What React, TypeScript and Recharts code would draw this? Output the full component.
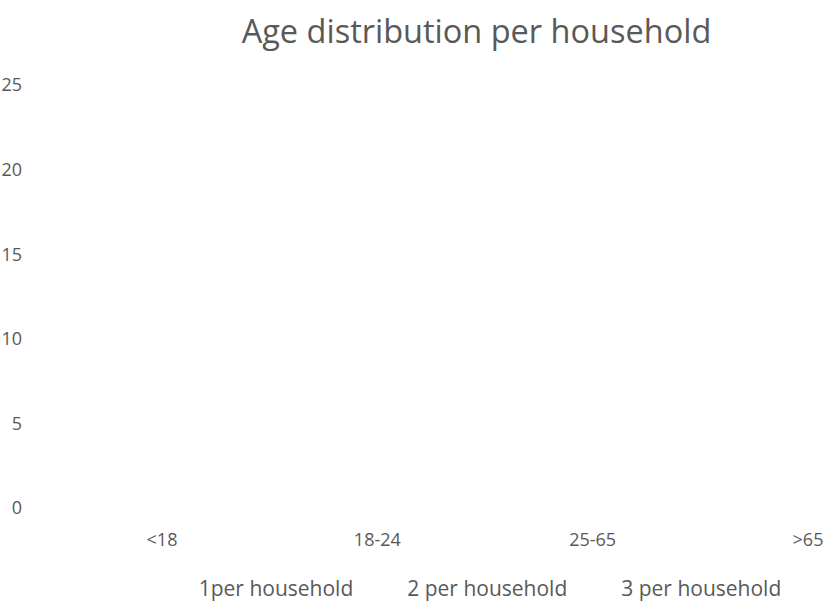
import { LineChart, Line, XAxis, YAxis, Legend } from "recharts";

const ageGroups = ["<18", "18-24", "25-65", ">65"];
const seriesNames = ["1per household", "2 per household", "3 per household"];
// the reference chart has no values plotted at all
const onePerHousehold: (number | null)[] = [null, null, null, null];
const twoPerHousehold: (number | null)[] = [null, null, null, null];
const threePerHousehold: (number | null)[] = [null, null, null, null];
const yTicks = [0, 5, 10, 15, 20, 25];

const dados = ageGroups.map((g, i) => ({
  grupo: g,
  s1: onePerHousehold[i],
  s2: twoPerHousehold[i],
  s3: threePerHousehold[i],
}));

const cinza = "#595959";
const fonte = "'Open Sans', sans-serif";

function LegendaTexto() {
  return (
    <div style={{ display: "flex", justifyContent: "center", gap: 54, fontFamily: fonte, fontSize: 21, color: cinza, paddingLeft: 143, lineHeight: "30px" }}>
      {seriesNames.map((n) => (
        <span key={n}>{n}</span>
      ))}
    </div>
  );
}

export default function App() {
  return (
    <div style={{ position: "absolute", left: 0, top: 0, width: 837, height: 601, background: "#fff" }}>
      <div style={{ position: "absolute", top: 8, width: 837, textAlign: "center", paddingLeft: 116, boxSizing: "border-box", fontFamily: fonte, fontSize: 32.5, color: cinza }}>
        Age distribution per household
      </div>
      <LineChart width={837} height={601} data={dados} margin={{ top: 85, right: 0, left: 0, bottom: 23 }}>
        <XAxis
          dataKey="grupo"
          scale="point"
          padding={{ left: 102, right: 29 }}
          axisLine={false}
          tickLine={false}
          tickSize={0}
          tickMargin={25}
          height={40}
          tick={{ fill: cinza, fontSize: 18, fontFamily: fonte }}
          interval={0}
        />
        <YAxis
          type="number"
          domain={[0, 25]}
          allowDataOverflow={true}
          ticks={yTicks}
          width={60}
          axisLine={false}
          tickLine={false}
          tickSize={0}
          tickMargin={38}
          tick={{ fill: cinza, fontSize: 18, fontFamily: fonte }}
        />
        <Legend verticalAlign="bottom" height={30} wrapperStyle={{ top: 573, left: 0 }} content={<LegendaTexto />} />
        <Line dataKey="s1" name={seriesNames[0]} stroke="#4472C4" isAnimationActive={false} />
        <Line dataKey="s2" name={seriesNames[1]} stroke="#ED7D31" isAnimationActive={false} />
        <Line dataKey="s3" name={seriesNames[2]} stroke="#A5A5A5" isAnimationActive={false} />
      </LineChart>
    </div>
  );
}
